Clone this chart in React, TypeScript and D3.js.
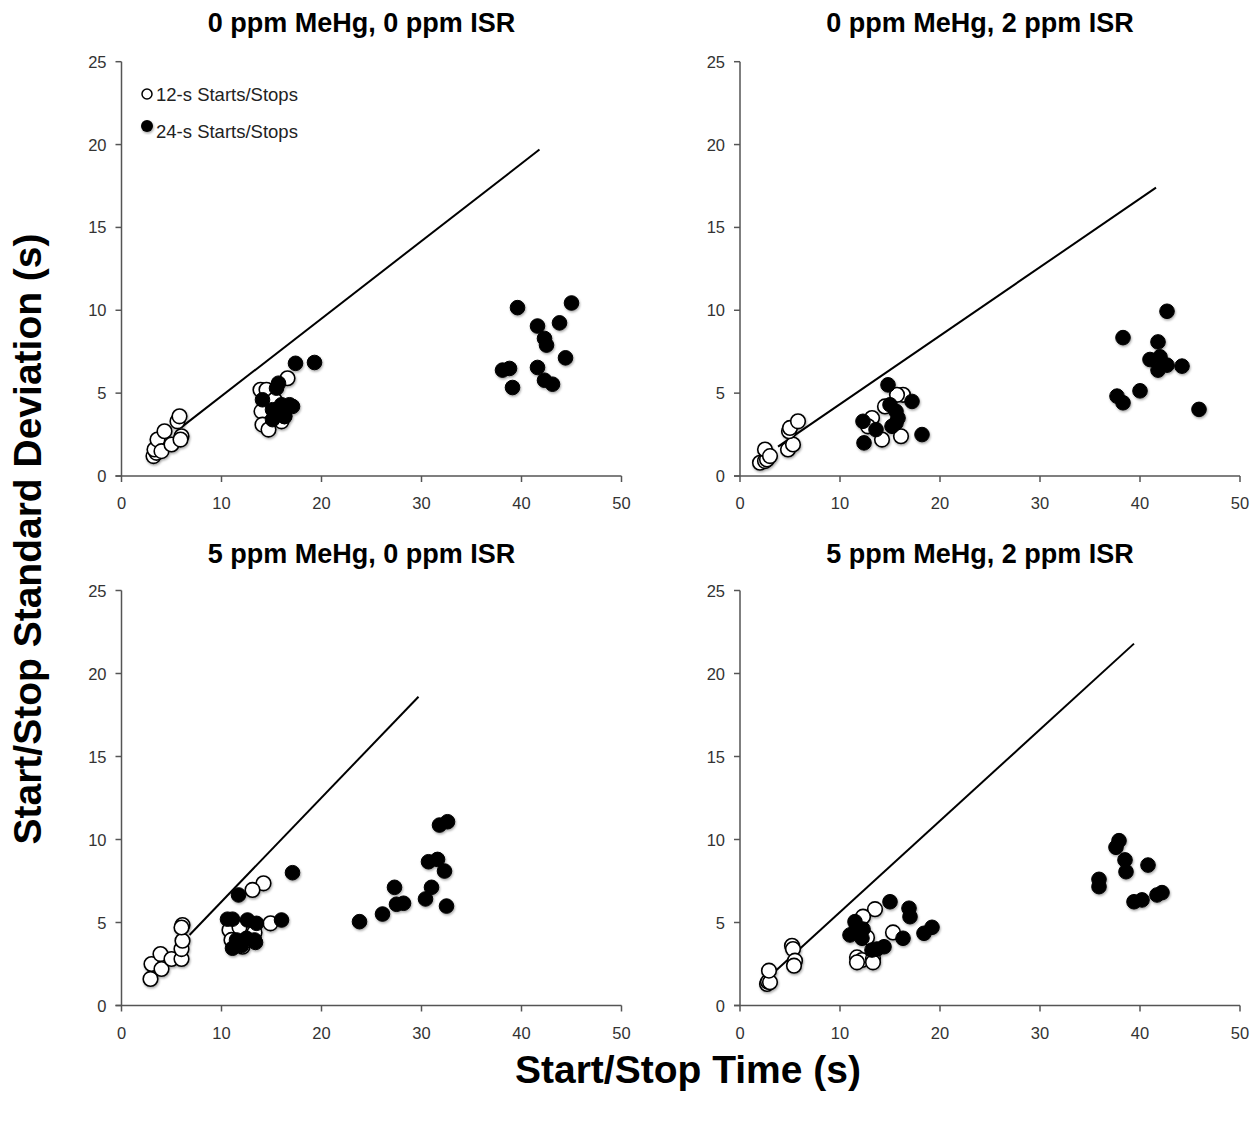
import React from "react";
import * as d3 from "d3";

type P = [number, number];

const panelTitles = [
  "0 ppm MeHg, 0 ppm ISR",
  "0 ppm MeHg, 2 ppm ISR",
  "5 ppm MeHg, 0 ppm ISR",
  "5 ppm MeHg, 2 ppm ISR",
];
const xTicks = [0, 10, 20, 30, 40, 50];
const yTicks = [0, 5, 10, 15, 20, 25];
const legendLabels = ["12-s Starts/Stops", "24-s Starts/Stops"];
const xAxisTitle = "Start/Stop Time (s)";
const yAxisTitle = "Start/Stop Standard Deviation (s)";

const p1Open: P[] = [
  [3.2, 1.2], [3.5, 1.4], [3.3, 1.6], [3.6, 2.2], [4.0, 1.5], [4.3, 2.7], [5.0, 1.9],
  [5.6, 3.3], [5.8, 3.6], [6.0, 2.4], [5.9, 2.2],
  [13.9, 5.2], [14.5, 5.2], [16.6, 5.9], [14.0, 3.9], [14.1, 3.1], [14.7, 2.8],
  [16.0, 3.3], [16.3, 3.6], [15.3, 4.6],
];
const p1Filled: P[] = [
  [14.1, 4.6], [15.5, 5.3], [15.7, 5.6], [15.1, 4.0], [15.1, 3.4], [16.3, 3.6], [16.0, 4.3],
  [16.8, 4.3], [17.1, 4.2], [17.4, 6.8], [19.3, 6.85],
  [39.6, 10.16], [45.0, 10.44], [41.6, 9.05], [43.8, 9.24], [42.3, 8.3], [42.5, 7.9],
  [44.4, 7.13], [38.1, 6.39], [38.8, 6.49], [41.6, 6.55], [39.1, 5.34], [42.3, 5.78], [43.1, 5.54],
];
const p1Line: P[] = [[6.0, 2.95], [41.8, 19.7]];

const p2Open: P[] = [
  [2.0, 0.8], [2.5, 0.9], [2.7, 1.0], [2.5, 1.6], [3.0, 1.2], [4.8, 1.6], [5.3, 1.9],
  [4.9, 2.7], [5.0, 2.9], [5.8, 3.3],
  [16.3, 4.9], [15.7, 4.9], [14.5, 4.2], [13.2, 3.5], [12.8, 3.0], [14.2, 2.2], [16.1, 2.4],
];
const p2Filled: P[] = [
  [14.8, 5.5], [17.2, 4.5], [15.0, 4.3], [15.6, 3.9], [15.8, 3.5], [15.2, 3.0], [12.3, 3.3],
  [13.6, 2.8], [12.4, 2.0], [18.2, 2.5], [15.6, 3.2],
  [42.7, 9.94], [38.3, 8.35], [41.8, 8.09], [41.0, 7.03], [42.0, 7.19], [42.7, 6.69],
  [41.8, 6.39], [44.2, 6.63], [37.7, 4.82], [38.3, 4.42], [40.0, 5.14], [45.9, 4.02],
];
const p2Line: P[] = [[3.8, 1.77], [41.6, 17.4]];

const p3Open: P[] = [
  [2.9, 1.6], [3.0, 2.5], [3.9, 3.1], [4.0, 2.2], [5.0, 2.8], [6.0, 2.8], [6.0, 3.4],
  [6.1, 3.9], [6.1, 4.85], [6.0, 4.7],
  [14.2, 7.36], [13.1, 6.96], [14.9, 4.95], [10.8, 4.55], [11.8, 4.71], [11.0, 3.95],
  [12.1, 3.54], [13.3, 4.4],
];
const p3Filled: P[] = [
  [17.1, 8.0], [11.7, 6.66], [10.6, 5.2], [11.1, 5.2], [12.6, 5.15], [13.5, 4.95], [16.0, 5.15],
  [11.5, 3.95], [11.1, 3.45], [12.5, 4.05], [13.3, 3.95], [13.4, 3.8], [12.0, 3.6],
  [23.8, 5.05], [26.1, 5.51], [27.3, 7.12], [27.5, 6.1], [28.2, 6.16], [30.4, 6.42],
  [31.0, 7.12], [30.7, 8.66], [31.6, 8.8], [32.3, 8.1], [31.8, 10.87], [32.6, 11.07], [32.5, 5.99],
];
const p3Line: P[] = [[6.8, 4.25], [29.7, 18.6]];

const p4Open: P[] = [
  [2.7, 1.3], [2.8, 1.43], [3.0, 1.4], [2.9, 2.1], [5.2, 3.6], [5.3, 3.4], [5.5, 2.7], [5.4, 2.4],
  [13.5, 5.8], [12.3, 5.35], [15.3, 4.4], [12.7, 4.1], [11.7, 2.9], [12.2, 2.74],
  [13.3, 2.84], [13.3, 2.6], [11.7, 2.6],
];
const p4Filled: P[] = [
  [15.0, 6.25], [16.9, 5.86], [17.0, 5.35], [19.2, 4.71], [18.4, 4.35], [16.3, 4.05],
  [11.5, 5.05], [11.0, 4.25], [11.6, 4.6], [12.2, 4.05], [12.3, 4.6], [13.2, 3.34],
  [13.7, 3.4], [14.4, 3.54],
  [37.9, 9.93], [37.6, 9.53], [38.5, 8.77], [38.6, 8.06], [35.9, 7.6], [35.9, 7.16],
  [40.8, 8.46], [39.4, 6.25], [40.2, 6.36], [41.7, 6.66], [42.2, 6.8],
];
const p4Line: P[] = [[3.3, 1.94], [39.4, 21.8]];

const panelsOpen = [p1Open, p2Open, p3Open, p4Open];
const panelsFilled = [p1Filled, p2Filled, p3Filled, p4Filled];
const panelsLine = [p1Line, p2Line, p3Line, p4Line];

const W = 1257;
const H = 1122;
const colX = [121.5, 740];
const rowY = [
  { top: 61.7, bottom: 476 },
  { top: 590.5, bottom: 1005.5 },
];
const plotW = 500;
const R = 7.3;
const axisColor = "#555";
const tickFont = "'Liberation Sans', Arial, sans-serif";

function Panel({ idx }: { idx: number }) {
  const col = idx % 2;
  const row = Math.floor(idx / 2);
  const x0 = colX[col];
  const { top, bottom } = rowY[row];
  const x = d3.scaleLinear().domain([0, 50]).range([x0, x0 + plotW]);
  const y = d3.scaleLinear().domain([0, 25]).range([bottom, top]);
  const line = d3
    .line<P>()
    .x((d) => x(d[0]))
    .y((d) => y(d[1]));
  const titleX = col === 0 ? 361.5 : 980;
  const titleY = row === 0 ? 32 : 563;
  return (
    <g>
      <text
        x={titleX}
        y={titleY}
        textAnchor="middle"
        fontFamily={tickFont}
        fontWeight="bold"
        fontSize={27}
        fill="#000"
      >
        {panelTitles[idx]}
      </text>
      {/* axes */}
      <line x1={x0} x2={x0} y1={y(25)} y2={y(0)} stroke={axisColor} strokeWidth={1.5} />
      <line x1={x0 - 6} x2={x0 + plotW} y1={y(0)} y2={y(0)} stroke={axisColor} strokeWidth={1.5} />
      {yTicks.map((t) => (
        <g key={"y" + t}>
          <line x1={x0 - 6} x2={x0} y1={y(t)} y2={y(t)} stroke={axisColor} strokeWidth={1.5} />
          <text
            x={x0 - 15}
            y={y(t) + 6}
            textAnchor="end"
            fontFamily={tickFont}
            fontSize={16.5}
            fill="#333"
          >
            {t}
          </text>
        </g>
      ))}
      {xTicks.map((t) => (
        <g key={"x" + t}>
          <line x1={x(t)} x2={x(t)} y1={y(0)} y2={y(0) + 6} stroke={axisColor} strokeWidth={1.5} />
          <text
            x={x(t)}
            y={y(0) + 33}
            textAnchor="middle"
            fontFamily={tickFont}
            fontSize={16.5}
            fill="#333"
          >
            {t}
          </text>
        </g>
      ))}
      <path d={line(panelsLine[idx]) || ""} stroke="#000" strokeWidth={2} fill="none" />
      <g filter="url(#shadow)">
        {panelsOpen[idx].map((d, i) => (
          <circle
            key={"o" + i}
            cx={x(d[0])}
            cy={y(d[1])}
            r={R}
            fill="#fff"
            stroke="#000"
            strokeWidth={1.6}
          />
        ))}
        {panelsFilled[idx].map((d, i) => (
          <circle key={"f" + i} cx={x(d[0])} cy={y(d[1])} r={R} fill="#000" stroke="#000" strokeWidth={1} />
        ))}
      </g>
      {idx === 0 && (
        <g>
          <circle cx={147} cy={94} r={5} fill="#fff" stroke="#000" strokeWidth={1.5} />
          <text x={156} y={101} fontFamily={tickFont} fontSize={18.5} fill="#222">
            {legendLabels[0]}
          </text>
          <circle cx={147} cy={126} r={6} fill="#000" filter="url(#shadow)" />
          <text x={156} y={138} fontFamily={tickFont} fontSize={18.5} fill="#222">
            {legendLabels[1]}
          </text>
        </g>
      )}
    </g>
  );
}

export default function App() {
  return (
    <svg
      width={W}
      height={H}
      viewBox={`0 0 ${W} ${H}`}
      style={{ position: "absolute", left: 0, top: 0, background: "#fff" }}
    >
      <defs>
        <filter id="shadow" x="-20%" y="-20%" width="140%" height="140%">
          <feDropShadow dx={0.8} dy={1.5} stdDeviation={1.2} floodColor="#000" floodOpacity={0.35} />
        </filter>
      </defs>
      <rect x={0} y={0} width={W} height={H} fill="#fff" />
      {[0, 1, 2, 3].map((i) => (
        <Panel key={i} idx={i} />
      ))}
      <text
        transform={`translate(41,539) rotate(-90)`}
        textAnchor="middle"
        fontFamily={tickFont}
        fontWeight="bold"
        fontSize={39}
        fill="#000"
      >
        {yAxisTitle}
      </text>
      <text
        x={688}
        y={1083}
        textAnchor="middle"
        fontFamily={tickFont}
        fontWeight="bold"
        fontSize={39}
        fill="#000"
      >
        {xAxisTitle}
      </text>
    </svg>
  );
}
